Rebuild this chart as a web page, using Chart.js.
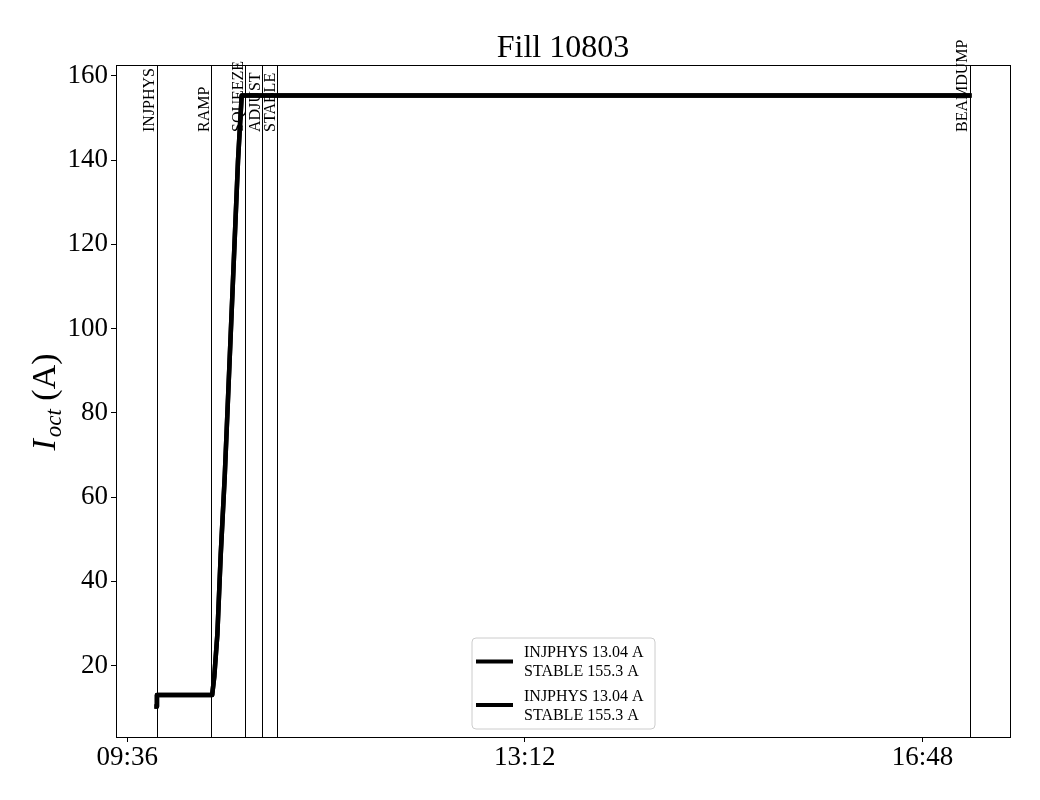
<!DOCTYPE html>
<html><head><meta charset="utf-8">
<script src="https://cdn.jsdelivr.net/npm/chart.js@4.4.1/dist/chart.umd.min.js"></script>
<style>html,body{margin:0;padding:0;background:#fff}#wrap{width:1040px;height:800px}</style>
</head><body><div id="wrap"><canvas id="c" width="1040" height="800"></canvas></div>
<script>
const chartTitle = "Fill 10803";
const times = ["09:52:00","09:52:10","10:22:10","10:23:20","10:25:00","10:26:48","10:29:00","10:32:36","10:36:12","10:38:12","17:13:30"];
const currentA = [10.3,13.04,13.04,17.5,27.5,46.2,65.0,102.4,139.8,155.3,155.3];
const currentB = [10.3,13.04,13.04,17.5,27.5,46.2,65.0,102.4,139.8,155.3,155.3];
const eventNames = ["INJPHYS","RAMP","SQUEEZE","ADJUST","STABLE","BEAMDUMP"];
const eventTimes = ["09:52:00","10:21:42","10:40:12","10:49:30","10:57:36","17:13:36"];
const xTickLabels = ["09:36","13:12","16:48"];
const legendLabelsA = ["INJPHYS 13.04 A","STABLE 155.3 A"];
const legendLabelsB = ["INJPHYS 13.04 A","STABLE 155.3 A"];

function toMin(s){const p=s.split(":").map(Number);return p[0]*60+p[1]+(p[2]||0)/60;}
const xs = times.map(toMin);
const xTickValues = xTickLabels.map(toMin);
const evX = eventTimes.map(toMin);
const allY = currentA.concat(currentB);
const yMinD = Math.min(...allY), yMaxD = Math.max(...allY);
const xMinD = Math.min(...xs), xMaxD = Math.max(...xs);
const yPad = (yMaxD-yMinD)*0.05, xPad = (xMaxD-xMinD)*0.05;

const SERIF = "'Liberation Serif','DejaVu Serif',serif";
Chart.defaults.font.family = SERIF;
Chart.defaults.color = "#000";

const overlay = {
  id:"overlay",
  beforeDatasetsDraw(chart){
    const {ctx, chartArea:a, scales:{x}} = chart;
    ctx.save();
    ctx.strokeStyle="#000"; ctx.lineWidth=1;
    evX.forEach(v=>{
      const px=Math.round(x.getPixelForValue(v))+0.5;
      ctx.beginPath(); ctx.moveTo(px,a.top); ctx.lineTo(px,a.bottom); ctx.stroke();
    });
    ctx.restore();
  },
  afterDraw(chart){
    const {ctx, chartArea:a, scales:{x}} = chart;
    ctx.save();
    // frame
    ctx.strokeStyle="#000"; ctx.lineWidth=1;
    ctx.strokeRect(Math.round(a.left)+0.5, Math.round(a.top)+0.5, Math.round(a.right-a.left), Math.round(a.bottom-a.top));
    // event labels
    ctx.fillStyle="#000";
    ctx.font="16px "+SERIF;
    evX.forEach((v,i)=>{
      const px=x.getPixelForValue(v);
      ctx.save();
      ctx.translate(px-2.5, a.top+67);
      ctx.rotate(-Math.PI/2);
      ctx.textAlign="left"; ctx.textBaseline="alphabetic";
      ctx.fillText(eventNames[i],0,0);
      ctx.restore();
    });
    // title
    ctx.font="32px "+SERIF;
    ctx.textAlign="center"; ctx.textBaseline="alphabetic";
    ctx.fillText(chartTitle,(a.left+a.right)/2,57);
    // y label
    ctx.save();
    ctx.translate(55,402);
    ctx.rotate(-Math.PI/2);
    const fBig="italic 34px "+SERIF, fSub="italic 23px "+SERIF, fN="34px "+SERIF;
    ctx.font=fBig; const w1=ctx.measureText("I").width;
    ctx.font=fSub; const w2=ctx.measureText("oct").width;
    ctx.font=fN; const w3=ctx.measureText(" (A)").width;
    let sx=-(w1+w2+w3+2)/2;
    ctx.textAlign="left";
    ctx.font=fBig; ctx.fillText("I",sx,0); sx+=w1+2;
    ctx.font=fSub; ctx.fillText("oct",sx,6); sx+=w2;
    ctx.font=fN; ctx.fillText(" (A)",sx,0);
    ctx.restore();
    // legend
    const bx=472, by=638, bw=183, bh=91, r=4;
    ctx.beginPath();
    ctx.moveTo(bx+r,by); ctx.lineTo(bx+bw-r,by); ctx.quadraticCurveTo(bx+bw,by,bx+bw,by+r);
    ctx.lineTo(bx+bw,by+bh-r); ctx.quadraticCurveTo(bx+bw,by+bh,bx+bw-r,by+bh);
    ctx.lineTo(bx+r,by+bh); ctx.quadraticCurveTo(bx,by+bh,bx,by+bh-r);
    ctx.lineTo(bx,by+r); ctx.quadraticCurveTo(bx,by,bx+r,by); ctx.closePath();
    ctx.fillStyle="rgba(255,255,255,0.8)"; ctx.fill();
    ctx.strokeStyle="#cccccc"; ctx.lineWidth=1; ctx.stroke();
    const entries=[{lab:legendLabelsA, ds:chart.data.datasets[0]},{lab:legendLabelsB, ds:chart.data.datasets[1]}];
    ctx.font="16px "+SERIF; ctx.fillStyle="#000"; ctx.textAlign="left"; ctx.textBaseline="alphabetic";
    entries.forEach((e,i)=>{
      const cy = by + 23.5 + i*43.5;
      ctx.strokeStyle=e.ds.borderColor; ctx.lineWidth=4; ctx.lineCap="butt";
      ctx.beginPath(); ctx.moveTo(476,cy); ctx.lineTo(513,cy); ctx.stroke();
      e.lab.forEach((t,j)=>{ ctx.fillText(t,524, cy-4.5+j*19); });
    });
    ctx.restore();
  }
};

new Chart(document.getElementById("c"),{
  type:"line",
  data:{datasets:[
    {label:legendLabelsA.join(" "), data:xs.map((v,i)=>({x:v,y:currentA[i]})), borderColor:"#000", borderWidth:4.5, pointRadius:0, tension:0, fill:false, borderCapStyle:"square", borderJoinStyle:"round"},
    {label:legendLabelsB.join(" "), data:xs.map((v,i)=>({x:v,y:currentB[i]})), borderColor:"#000", borderWidth:4.5, pointRadius:0, tension:0, fill:false, borderCapStyle:"square", borderJoinStyle:"round"}
  ]},
  options:{
    responsive:false, animation:false, devicePixelRatio:1,
    layout:{padding:{top:65,right:30,left:0,bottom:0}},
    plugins:{legend:{display:false}, title:{display:false}, tooltip:{enabled:false}},
    scales:{
      x:{type:"linear", min:xMinD-xPad, max:xMaxD+xPad,
        afterBuildTicks(s){ s.ticks = xTickValues.map(v=>({value:v})); },
        afterFit(s){ s.height = 63; },
        ticks:{font:{size:27, family:SERIF}, color:"#000", padding:0, maxRotation:0, autoSkip:false,
          callback(v){ const i=xTickValues.indexOf(v); return i>=0?xTickLabels[i]:""; }},
        grid:{drawOnChartArea:false, tickLength:5, color:"#000"},
        border:{display:true,color:"#000"}
      },
      y:{type:"linear", min:yMinD-yPad, max:yMaxD+yPad,
        afterFit(s){ s.width = 116; },
        ticks:{stepSize:20, includeBounds:false, font:{size:27, family:SERIF}, color:"#000", padding:3},
        grid:{drawOnChartArea:false, tickLength:5, color:"#000"},
        border:{display:true,color:"#000"}
      }
    }
  },
  plugins:[overlay]
});
</script></body></html>
